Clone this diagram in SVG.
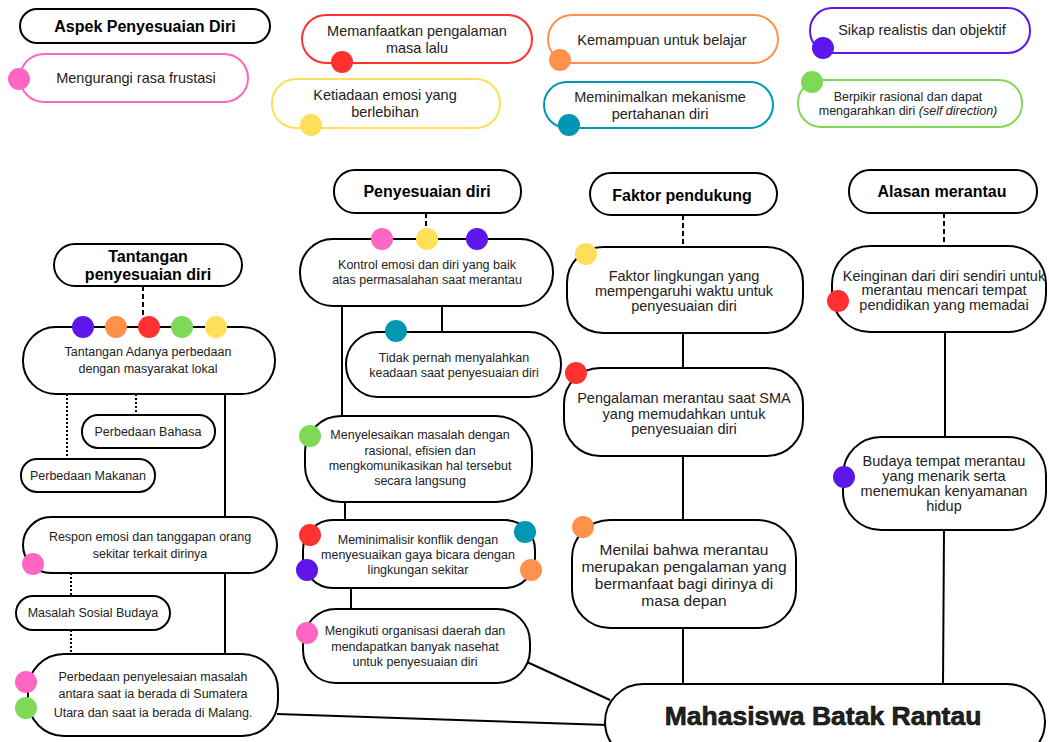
<svg xmlns="http://www.w3.org/2000/svg" width="1049" height="742" viewBox="0 0 1049 742">
<style>
.bx{fill:#fff;stroke:#000;stroke-width:2}
.lg{fill:#fff;stroke-width:2}
.ln{stroke:#000;stroke-width:2;fill:none}
.ds{stroke:#000;stroke-width:2;stroke-dasharray:5 3;fill:none}
.dt{stroke:#000;stroke-width:2;stroke-dasharray:2 2;fill:none}
text{font-family:"Liberation Sans",Arial,sans-serif;text-anchor:middle;fill:#222}
.h{font-weight:bold;font-size:16px;fill:#000}
.s{font-size:12.5px}
.m{font-size:14.5px}
.l{font-size:15.5px}
</style>
<rect width="1049" height="742" fill="#fff"/>

<!-- legend -->
<g id="legend-title"><rect class="bx" x="20" y="9" width="250" height="34" rx="17"/><text class="h" x="145" y="32" font-size="17.5">Aspek Penyesuaian Diri</text></g>
<g id="legend-pink"><rect class="lg" stroke="#ff66c4" x="20" y="54" width="228" height="48" rx="24"/><circle cx="19" cy="79" r="11" fill="#ff66c4"/><text class="m" x="136" y="83" font-size="15">Mengurangi rasa frustasi</text></g>
<g id="legend-red"><rect class="lg" stroke="#ff3131" x="302" y="15" width="230" height="48" rx="24"/><circle cx="342" cy="62" r="11" fill="#ff3131"/><text class="m" x="417" y="36">Memanfaatkan pengalaman</text><text class="m" x="417" y="53">masa lalu</text></g>
<g id="legend-yellow"><rect class="lg" stroke="#ffde59" x="272" y="79" width="228" height="49" rx="24"/><circle cx="311" cy="125" r="11" fill="#ffde59"/><text class="m" x="385" y="100">Ketiadaan emosi yang</text><text class="m" x="385" y="117">berlebihan</text></g>
<g id="legend-orange"><rect class="lg" stroke="#ff914d" x="548" y="15" width="230" height="48" rx="24"/><circle cx="560" cy="60" r="11" fill="#ff914d"/><text class="m" x="662" y="45">Kemampuan untuk belajar</text></g>
<g id="legend-teal"><rect class="lg" stroke="#0097b2" x="544" y="82" width="229" height="46" rx="23"/><circle cx="569" cy="125" r="11" fill="#0097b2"/><text class="m" x="660" y="102">Meminimalkan mekanisme</text><text class="m" x="660" y="119">pertahanan diri</text></g>
<g id="legend-purple"><rect class="lg" stroke="#5e17eb" x="810" y="8" width="220" height="45" rx="22"/><circle cx="823" cy="48" r="11" fill="#5e17eb"/><text class="m" x="922" y="35">Sikap realistis dan objektif</text></g>
<g id="legend-green"><rect class="lg" stroke="#7ed957" x="798" y="80" width="224" height="47" rx="23"/><circle cx="812" cy="82" r="11" fill="#7ed957"/><text class="s" x="908" y="101">Berpikir rasional dan dapat</text><text class="s" x="908" y="115">mengarahkan diri <tspan font-style="italic">(self direction)</tspan></text></g>

<!-- connectors -->
<g id="connectors">
<path class="ds" d="M143 286V326"/>
<path class="dt" d="M67 394V460"/>
<path class="dt" d="M136 394V415"/>
<path class="ln" d="M225 394V654"/>
<path class="dt" d="M71 573V596"/>
<path class="dt" d="M71 630V654"/>
<path class="ln" d="M277 714L608 725"/>
<path class="ds" d="M426 213V239"/>
<path class="ln" d="M342 306V416"/>
<path class="ln" d="M442 306V332"/>
<path class="ln" d="M345 502V520"/>
<path class="ln" d="M351 588V609"/>
<path class="ln" d="M527 662L610 700"/>
<path class="ds" d="M683 215V247"/>
<path class="ln" d="M683 333V368"/>
<path class="ln" d="M683 456V520"/>
<path class="ln" d="M683 628V684"/>
<path class="ds" d="M944 213V246"/>
<path class="ln" d="M945 332V437"/>
<path class="ln" d="M944 530L943 684"/>
</g>

<!-- Tantangan column -->
<g id="tantangan-header"><rect class="bx" x="54" y="244" width="188" height="42" rx="21"/><text class="h" x="148" y="262" font-size="15">Tantangan</text><text class="h" x="148" y="280" font-size="15">penyesuaian diri</text></g>
<g id="tantangan-main"><rect class="bx" x="23" y="327" width="252" height="67" rx="33"/>
<circle cx="83" cy="327" r="11" fill="#5e17eb"/><circle cx="116" cy="327" r="11" fill="#ff914d"/><circle cx="149" cy="327" r="11" fill="#ff3131"/><circle cx="182" cy="327" r="11" fill="#7ed957"/><circle cx="216" cy="327" r="11" fill="#ffde59"/>
<text class="s" x="148" y="356">Tantangan Adanya perbedaan</text><text class="s" x="148" y="373">dengan masyarakat lokal</text></g>
<g id="bahasa"><rect class="bx" x="82" y="415" width="133" height="33" rx="16"/><text class="s" x="148" y="436">Perbedaan Bahasa</text></g>
<g id="makanan"><rect class="bx" x="21" y="459" width="134" height="33" rx="16"/><text class="s" x="88" y="480">Perbedaan Makanan</text></g>
<g id="respon"><rect class="bx" x="23" y="517" width="254" height="56" rx="28"/><circle cx="33" cy="564" r="11" fill="#ff66c4"/><text class="s" x="150" y="541">Respon emosi dan tanggapan orang</text><text class="s" x="150" y="558">sekitar terkait dirinya</text></g>
<g id="sosial"><rect class="bx" x="16" y="596" width="154" height="34" rx="17"/><text class="s" x="93" y="617">Masalah Sosial Budaya</text></g>
<g id="penyelesaian"><rect class="bx" x="28" y="654" width="250" height="82" rx="36"/><circle cx="26" cy="682" r="11" fill="#ff66c4"/><circle cx="26" cy="708" r="11" fill="#7ed957"/><text class="s" x="153" y="681">Perbedaan penyelesaian masalah</text><text class="s" x="153" y="698">antara saat ia berada di Sumatera</text><text class="s" x="153" y="717">Utara dan saat ia berada di Malang.</text></g>

<!-- Penyesuaian column -->
<g id="penyesuaian-header"><rect class="bx" x="334" y="170" width="187" height="43" rx="21"/><text class="h" x="427" y="197" font-size="15">Penyesuaian diri</text></g>
<g id="kontrol"><rect class="bx" x="300" y="239" width="253" height="67" rx="33"/><circle cx="382" cy="239" r="11" fill="#ff66c4"/><circle cx="427" cy="239" r="11" fill="#ffde59"/><circle cx="477" cy="239" r="11" fill="#5e17eb"/><text class="s" x="427" y="269">Kontrol emosi dan diri yang baik</text><text class="s" x="427" y="284">atas permasalahan saat merantau</text></g>
<g id="tidak"><rect class="bx" x="346" y="332" width="215" height="65" rx="32"/><circle cx="396" cy="331" r="11" fill="#0097b2"/><text class="s" x="454" y="362">Tidak pernah menyalahkan</text><text class="s" x="454" y="377">keadaan saat penyesuaian diri</text></g>
<g id="menyelesaikan"><rect class="bx" x="305" y="416" width="227" height="86" rx="36"/><circle cx="310" cy="436" r="11" fill="#7ed957"/><text class="s" x="420" y="439">Menyelesaikan masalah dengan</text><text class="s" x="420" y="455">rasional, efisien dan</text><text class="s" x="420" y="470">mengkomunikasikan hal tersebut</text><text class="s" x="420" y="485">secara langsung</text></g>
<g id="meminimalisir"><rect class="bx" x="303" y="520" width="232" height="68" rx="30"/><circle cx="310" cy="535" r="11" fill="#ff3131"/><circle cx="307" cy="570" r="11" fill="#5e17eb"/><circle cx="525" cy="532" r="11" fill="#0097b2"/><circle cx="531" cy="570" r="11" fill="#ff914d"/><text class="s" x="418" y="544">Meminimalisir konflik dengan</text><text class="s" x="418" y="559">menyesuaikan gaya bicara dengan</text><text class="s" x="418" y="574">lingkungan sekitar</text></g>
<g id="mengikuti"><rect class="bx" x="303" y="609" width="227" height="74" rx="33"/><circle cx="307" cy="633" r="11" fill="#ff66c4"/><text class="s" x="415" y="635">Mengikuti organisasi daerah dan</text><text class="s" x="415" y="651">mendapatkan banyak nasehat</text><text class="s" x="415" y="666">untuk penyesuaian diri</text></g>

<!-- Faktor column -->
<g id="faktor-header"><rect class="bx" x="590" y="173" width="187" height="42" rx="21"/><text class="h" x="682" y="201" font-size="15">Faktor pendukung</text></g>
<g id="lingkungan"><rect class="bx" x="567" y="247" width="236" height="86" rx="36"/><circle cx="586" cy="254" r="11" fill="#ffde59"/><text class="m" x="684" y="281">Faktor lingkungan yang</text><text class="m" x="684" y="296">mempengaruhi waktu untuk</text><text class="m" x="684" y="311">penyesuaian diri</text></g>
<g id="pengalaman"><rect class="bx" x="564" y="368" width="239" height="88" rx="36"/><circle cx="576" cy="373" r="11" fill="#ff3131"/><text class="m" x="684" y="403">Pengalaman merantau saat SMA</text><text class="m" x="684" y="419">yang memudahkan untuk</text><text class="m" x="684" y="434">penyesuaian diri</text></g>
<g id="menilai"><rect class="bx" x="572" y="520" width="224" height="108" rx="38"/><circle cx="583" cy="527" r="11" fill="#ff914d"/><text class="l" x="684" y="555">Menilai bahwa merantau</text><text class="l" x="684" y="572">merupakan pengalaman yang</text><text class="l" x="684" y="589">bermanfaat bagi dirinya di</text><text class="l" x="684" y="606">masa depan</text></g>

<!-- Alasan column -->
<g id="alasan-header"><rect class="bx" x="849" y="170" width="188" height="43" rx="21"/><text class="h" x="942" y="197" font-size="15">Alasan merantau</text></g>
<g id="keinginan"><rect class="bx" x="832" y="246" width="214" height="86" rx="38"/><circle cx="838" cy="301" r="11" fill="#ff3131"/><text class="m" x="944" y="281">Keinginan dari diri sendiri untuk</text><text class="m" x="944" y="295">merantau mencari tempat</text><text class="m" x="944" y="310">pendidikan yang memadai</text></g>
<g id="budaya"><rect class="bx" x="843" y="437" width="203" height="93" rx="38"/><circle cx="844" cy="477" r="11" fill="#5e17eb"/><text class="m" x="944" y="466">Budaya tempat merantau</text><text class="m" x="944" y="481">yang menarik serta</text><text class="m" x="944" y="496">menemukan kenyamanan</text><text class="m" x="944" y="511">hidup</text></g>

<!-- Central -->
<g id="mahasiswa"><rect class="bx" x="605" y="684" width="440" height="76" rx="38"/><text x="823" y="725" font-weight="bold" font-size="26.5" fill="#000" stroke="#000" stroke-width="0.6">Mahasiswa Batak Rantau</text></g>
</svg>
